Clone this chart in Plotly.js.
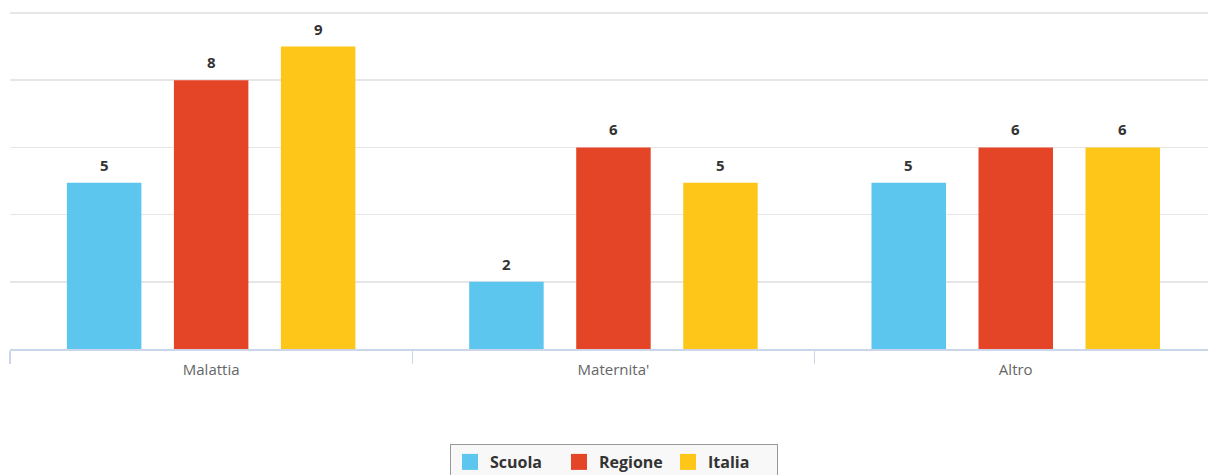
<!DOCTYPE html>
<html>
<head>
<meta charset="utf-8">
<script src="https://cdn.plot.ly/plotly-3.0.1.min.js"></script>
<style>
  html, body { margin: 0; padding: 0; background: #ffffff; }
  #chart { width: 1208px; height: 475px; }
</style>
</head>
<body>
<div id="chart"></div>
<script>
// ---- Data ----
const categories = ["Malattia", "Maternita'", "Altro"];
const seriesNames = ["Scuola", "Regione", "Italia"];
const scuolaValues = [4.95, 2, 4.95];
const regioneValues = [8, 6, 6];
const italiaValues = [9, 4.95, 6];
const yTickValues = [0, 2, 4, 6, 8, 10];

// ---- Styles ----
const seriesValues = [scuolaValues, regioneValues, italiaValues];
const seriesColors = ["#5cc6ee", "#e54527", "#fec619"];
const fontFamily = "'Open Sans', 'Noto Sans', sans-serif";
const groupPitch = 107; // px between bar centres inside a group

const traces = [];
seriesValues.forEach((vals, s) => {
  traces.push({
    type: "bar",
    name: seriesNames[s],
    x: categories,
    y: vals,
    marker: { color: seriesColors[s] },
    showlegend: false,
    legendgroup: seriesNames[s],
    hoverinfo: "x+y+name"
  });
});
// legend entries (larger square symbols)
seriesNames.forEach((n, s) => {
  traces.push({
    type: "scatter",
    mode: "markers",
    name: n,
    x: [null],
    y: [null],
    marker: { symbol: "square", size: 16, color: seriesColors[s] },
    legendgroup: n,
    showlegend: true,
    hoverinfo: "skip"
  });
});

const annotations = [];
seriesValues.forEach((vals, s) => {
  vals.forEach((v, i) => {
    annotations.push({
      x: categories[i],
      y: v,
      xref: "x",
      yref: "y",
      text: String(Math.round(v)),
      showarrow: false,
      yanchor: "bottom",
      xshift: (s - 1) * groupPitch,
      yshift: 6,
      font: { family: fontFamily, size: 15, color: "#333333", weight: "bold" }
    });
  });
});

const plotWidth = 1208 - 10;
const catWidth = 402.3;

const layout = {
  width: 1208,
  height: 475,
  margin: { l: 10, r: 0, t: 11, b: 126 },
  paper_bgcolor: "#ffffff",
  plot_bgcolor: "#ffffff",
  barmode: "group",
  bargap: 0.202,
  bargroupgap: 0.304,
  font: { family: fontFamily },
  xaxis: {
    type: "category",
    range: [-0.5, -0.5 + plotWidth / catWidth],
    showgrid: false,
    showline: true,
    linecolor: "#ccd6eb",
    linewidth: 1.5,
    ticks: "outside",
    tickson: "boundaries",
    ticklen: 13,
    tickwidth: 1.5,
    tickcolor: "#ccd6eb",
    ticklabelstandoff: 6,
    tickfont: { family: fontFamily, size: 15, color: "#666666" },
    fixedrange: true
  },
  yaxis: {
    range: [0, 10.06],
    tickvals: yTickValues,
    showticklabels: false,
    showgrid: true,
    gridcolor: "#e6e6e6",
    gridwidth: 1.5,
    zeroline: false,
    showline: false,
    ticks: "",
    fixedrange: true
  },
  showlegend: true,
  legend: {
    orientation: "h",
    xref: "container",
    yref: "container",
    x: 614 / 1208,
    xanchor: "center",
    y: 1 - 444 / 475,
    yanchor: "top",
    entrywidth: 64,
    entrywidthmode: "pixels",
    bgcolor: "#f8f8f8",
    bordercolor: "#999999",
    borderwidth: 1,
    font: { family: fontFamily, size: 16, color: "#333333", weight: "bold" },
    itemclick: false,
    itemdoubleclick: false
  },
  annotations: annotations
};

Plotly.newPlot("chart", traces, layout, { displayModeBar: false, staticPlot: true });
</script>
</body>
</html>
